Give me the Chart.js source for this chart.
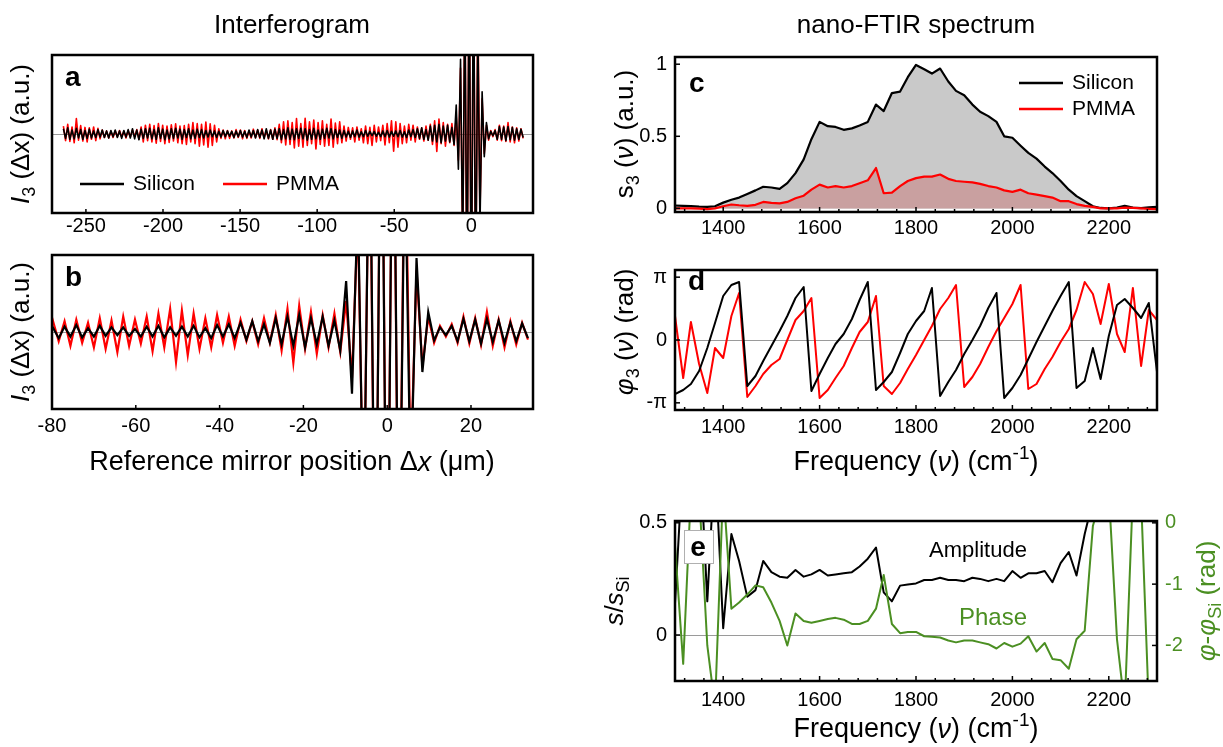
<!DOCTYPE html>
<html>
<head>
<meta charset="utf-8">
<script src="https://cdn.jsdelivr.net/npm/chart.js@4.4.1/dist/chart.umd.min.js"></script>
<style>
  html, body { margin: 0; background: #fff; }
  #fig { position: relative; width: 1223px; height: 747px; overflow: hidden; background: #fff; }
  #fig canvas { position: absolute; }
</style>
</head>
<body>
<div id="fig">
  <canvas id="pa" width="560" height="240" style="left:0;top:0"></canvas>
  <canvas id="pb" width="560" height="260" style="left:0;top:240px"></canvas>
  <canvas id="pc" width="643" height="250" style="left:580px;top:0"></canvas>
  <canvas id="pd" width="643" height="250" style="left:580px;top:250px"></canvas>
  <canvas id="pe" width="643" height="247" style="left:580px;top:500px"></canvas>
</div>
<script>
// interferogram: one sample every STEP µm starting at X_START
const X_START = -264.6;
const STEP = 1.4;
const siliconI = [
  12,-10,14,-12,9,-11,13,-9,10,-12,
  8,-10,11,-9,7,-8,10,-7,9,-8,
  7,-9,8,-6,9,-8,7,-10,8,-7,
  10,-9,12,-11,9,-13,11,-10,12,-9,
  13,-11,10,-12,14,-10,11,-13,9,-11,
  12,-10,13,-9,11,-12,10,-8,12,-11,
  9,-10,11,-8,10,-9,8,-7,9,-6,
  7,-8,6,-7,8,-6,7,-5,6,-8,
  7,-6,8,-7,6,-8,9,-7,8,-9,
  10,-8,9,-11,12,-10,9,-12,11,-10,
  12,-13,10,-11,14,-12,11,-13,12,-10,
  13,-11,12,-14,10,-12,13,-11,9,-12,
  11,-10,13,-9,12,-11,10,-8,9,-10,
  8,-7,6,-8,7,-6,9,-7,5,-6,
  8,-5,6,-4,6,-5,4,-6,7,-6,
  8,-7,6,-5,7,-6,8,-7,5,-8,
  9,-6,10,-8,12,-10,14,-12,10,-14,
  18,-16,20,-18,22,-20,18,-16,20,-18,
  15,-24,66,-80,170,-270,330,-400,420,-450,
  430,-380,250,-210,96,-52,26,-11,6,-4,
  8,-12,17,-12,16,-15,17,-13,15,-14,
  12,-12,11,-8
];
const pmmaI = [
  18,-15,22,-17,16,-20,35,-14,19,-16,
  15,-18,14,-12,16,-15,13,-11,9,-8,
  7,-9,6,-8,7,-6,8,-7,6,-9,
  8,-7,9,-6,10,-12,16,-18,20,-15,
  22,-18,19,-21,24,-17,20,-22,18,-19,
  21,-16,23,-20,18,-22,19,-24,22,-18,
  26,-22,24,-28,22,-25,27,-30,23,-26,
  20,-18,12,-10,9,-11,8,-10,7,-9,
  10,-8,9,-11,8,-10,7,-9,11,-8,
  9,-10,12,-9,8,-11,10,-12,14,-13,
  22,-20,28,-25,30,-24,26,-32,35,-28,
  24,-30,36,-26,28,-22,32,-34,26,-24,
  30,-28,22,-26,34,-30,25,-22,28,-20,
  18,-16,15,-12,14,-18,16,-14,12,-20,
  18,-22,15,-26,20,-18,16,-15,20,-25,
  24,-20,30,-39,28,-30,24,-22,18,-20,
  22,-14,20,-18,16,-12,14,-16,18,-14,
  22,-24,30,-40,34,-22,26,-28,22,-20,
  24,-26,40,-60,150,-260,320,-420,440,-430,
  420,-400,300,-180,80,-45,20,-14,8,-6,
  10,-14,20,-15,18,-17,26,-18,16,-20,
  14,-16,12,-10
];

// spectra, frequency grid in cm^-1
const freq = [
  1300,1317,1333,1350,1367,1383,1400,1417,1433,1450,
  1467,1483,1500,1517,1533,1550,1567,1583,1600,1617,
  1633,1650,1667,1683,1700,1717,1733,1750,1767,1783,
  1800,1817,1833,1850,1867,1883,1900,1917,1933,1950,
  1967,1983,2000,2017,2033,2050,2067,2083,2100,2117,
  2133,2150,2167,2183,2200,2217,2233,2250,2267,2283,
  2300
];
const siliconAmp = [
  0.02,0.018,0.016,0.012,0.010,0.015,0.04,0.06,0.075,0.10,
  0.125,0.15,0.145,0.135,0.175,0.245,0.34,0.48,0.60,0.57,
  0.565,0.545,0.555,0.575,0.60,0.72,0.675,0.80,0.81,0.91,
  0.995,0.965,0.935,0.97,0.88,0.815,0.785,0.72,0.67,0.64,
  0.60,0.50,0.49,0.435,0.385,0.345,0.29,0.245,0.19,0.13,
  0.085,0.05,0.015,0.003,0.0,0.005,0.018,0.006,0.002,0.007,
  0.01
];
const pmmaAmp = [
  0.0,0.0,0.0,-0.002,-0.005,0.0,0.015,0.027,0.022,0.018,
  0.025,0.045,0.038,0.035,0.045,0.07,0.088,0.13,0.165,0.145,
  0.155,0.145,0.155,0.175,0.195,0.28,0.105,0.11,0.155,0.19,
  0.21,0.22,0.22,0.235,0.205,0.19,0.185,0.18,0.17,0.155,
  0.145,0.125,0.115,0.13,0.105,0.095,0.085,0.075,0.05,0.05,
  0.03,0.018,0.01,0.0,0.0,0.0,0.005,0.003,0.0,-0.003,
  -0.005
];
const siliconPhase = [
  -2.7,-2.5,-2.2,-1.55,-0.4,0.85,2.2,2.75,2.9,-2.3,
  -1.8,-1.05,-0.3,0.45,1.2,2.1,2.65,-2.55,-1.7,-0.9,
  -0.2,0.3,1.05,2.0,2.9,-2.5,-2.1,-1.6,-0.65,0.3,
  0.95,1.45,2.6,-2.8,-2.1,-1.5,-0.7,0.0,0.7,1.6,
  2.35,-2.9,-2.4,-1.75,-0.95,-0.1,0.7,1.45,2.2,2.9,
  -2.4,-2.05,-0.4,-1.95,0.2,1.75,2.05,1.6,1.1,1.85,
  -1.6
];
const pmmaPhase = [
  1.2,-1.9,0.9,-1.2,-2.65,-0.4,-0.9,1.2,2.35,-2.85,
  -2.3,-1.7,-1.25,-0.95,0.0,1.0,1.45,2.1,-2.9,-2.5,
  -1.9,-1.3,-0.4,0.4,0.9,2.2,-2.3,-2.7,-2.15,-1.45,
  -0.75,0.0,0.7,1.55,2.1,2.75,-2.35,-1.85,-1.2,-0.35,
  0.45,1.1,1.8,2.75,-2.45,-2.2,-1.45,-0.85,-0.1,0.55,
  1.5,2.9,2.3,0.8,2.8,0.3,-0.6,2.6,-1.3,1.5,
  1.0
];
const ampRatio = [
  0.14,0.8,0.9,0.9,0.15,0.8,0.03,0.45,0.33,0.17,
  0.2,0.33,0.28,0.26,0.255,0.29,0.26,0.27,0.29,0.265,
  0.27,0.275,0.28,0.305,0.34,0.39,0.19,0.15,0.22,0.225,
  0.23,0.245,0.245,0.255,0.245,0.245,0.24,0.255,0.25,0.24,
  0.25,0.24,0.285,0.255,0.275,0.275,0.285,0.235,0.32,0.37,
  0.265,0.45,0.6,0.9,2.5,1.2,0.8,2.0,3.0,1.5,
  1.0
];
const phaseDiff = [
  -0.37,-2.3,0.5,0.5,-2.0,-3.0,0.6,-1.4,-1.3,-1.17,
  -1.02,-1.05,-1.3,-1.6,-2.0,-1.48,-1.6,-1.63,-1.6,-1.57,
  -1.55,-1.58,-1.65,-1.65,-1.6,-1.4,-0.85,-1.65,-1.8,-1.78,
  -1.78,-1.85,-1.86,-1.87,-1.92,-1.95,-1.92,-1.92,-1.95,-1.98,
  -2.05,-1.96,-2.02,-1.97,-1.85,-2.1,-1.96,-2.22,-2.24,-2.38,
  -1.9,-1.76,-0.05,0.4,0.5,-1.9,-3.0,0.5,0.4,-3.0,
  -3.0
];

// tick values and labels
const ticksA = [-250, -200, -150, -100, -50, 0];
const ticksB = [-80, -60, -40, -20, 0, 20];
const freqTicks = [1400, 1600, 1800, 2000, 2200];
const ampTicks = [0, 0.5, 1];
const ampTickLabels = ['0', '0.5', '1'];
const phaseTicks = [-Math.PI, 0, Math.PI];
const phaseTickLabels = ['-π', '0', 'π'];
const ratioTicks = [0, 0.5];
const ratioTickLabels = ['0', '0.5'];
const diffTicks = [-2, -1, 0];
const diffTickLabels = ['-2', '-1', '0'];

const FONT = '"Liberation Sans", Arial, Helvetica, sans-serif';
const RED = '#ff0000';
const GREEN = '#4b8f22';

function runFont(st, size) {
  const f = st ? st.split(' ') : [];
  const px = (f.includes('sub') || f.includes('sup')) ? Math.round(size * 0.7) : size;
  return (f.includes('i') ? 'italic ' : '') + (f.includes('b') ? 'bold ' : '') + px + 'px ' + FONT;
}

// text made of runs: [text, 'i' | 'b' | 'sub' | 'sup' ...]
function drawRich(ctx, t) {
  const runs = typeof t.text === 'string' ? [[t.text, t.style || '']] : t.text;
  const size = t.size || 20;
  ctx.save();
  ctx.translate(t.x, t.y);
  if (t.rotate) ctx.rotate(-Math.PI / 2);
  let w = 0;
  runs.forEach(([s, st]) => { ctx.font = runFont(st, size); w += ctx.measureText(s).width; });
  if (t.box) {
    ctx.fillStyle = '#fff';
    ctx.strokeStyle = '#b0b0b0';
    ctx.lineWidth = 1;
    ctx.fillRect(t.box[0], t.box[1], t.box[2], t.box[3]);
    ctx.strokeRect(t.box[0] + 0.5, t.box[1] + 0.5, t.box[2], t.box[3]);
  }
  let x = t.align === 'left' ? 0 : t.align === 'right' ? -w : -w / 2;
  ctx.fillStyle = t.color || '#000';
  ctx.textAlign = 'left';
  ctx.textBaseline = 'middle';
  runs.forEach(([s, st]) => {
    const f = st ? st.split(' ') : [];
    ctx.font = runFont(st, size);
    const dy = f.includes('sub') ? size * 0.3 : f.includes('sup') ? -size * 0.33 : 0;
    ctx.fillText(s, x, dy);
    x += ctx.measureText(s).width;
  });
  ctx.restore();
}

// zero line, frame with inward ticks, legend and free text
const decor = {
  id: 'decor',
  beforeDatasetsDraw(chart, args, o) {
    if (!o.zero) return;
    const { ctx, chartArea: ca } = chart;
    const y = Math.round(chart.scales[o.zero].getPixelForValue(0)) + 0.5;
    ctx.save();
    ctx.strokeStyle = '#9a9a9a';
    ctx.lineWidth = 1;
    ctx.beginPath();
    ctx.moveTo(ca.left, y);
    ctx.lineTo(ca.right, y);
    ctx.stroke();
    ctx.restore();
  },
  afterDatasetsDraw(chart, args, o) {
    const { ctx, chartArea: ca } = chart;
    ctx.save();
    ctx.strokeStyle = '#000';
    ctx.lineWidth = 1.5;
    (o.marks || []).forEach(m => {
      const s = chart.scales[m.axis];
      m.at.forEach(v => {
        const p = s.getPixelForValue(v);
        ctx.beginPath();
        if (m.side === 'bottom') { ctx.moveTo(p, ca.bottom); ctx.lineTo(p, ca.bottom - m.len); }
        else if (m.side === 'left') { ctx.moveTo(ca.left, p); ctx.lineTo(ca.left + m.len, p); }
        else { ctx.moveTo(ca.right, p); ctx.lineTo(ca.right - m.len, p); }
        ctx.stroke();
      });
    });
    ctx.lineWidth = 2.5;
    ctx.strokeRect(ca.left, ca.top, ca.right - ca.left, ca.bottom - ca.top);
    if (o.legend) {
      chart.data.datasets.forEach((d, i) => {
        const [x, y] = o.legend[i];
        ctx.strokeStyle = d.borderColor;
        ctx.lineWidth = 2.5;
        ctx.beginPath();
        ctx.moveTo(x, y);
        ctx.lineTo(x + 44, y);
        ctx.stroke();
        drawRich(ctx, { text: d.label, x: x + 53, y: y, size: 21, align: 'left' });
      });
    }
    (o.texts || []).forEach(t => drawRich(ctx, t));
    ctx.restore();
  }
};

function minorTicks(from, to, step, skip) {
  const out = [];
  for (let v = from; v <= to; v += step) if (!skip.includes(v)) out.push(v);
  return out;
}

function xAxis(min, max, ticks, height, pad) {
  return {
    type: 'linear', min, max,
    grid: { display: false, drawTicks: false },
    border: { display: false },
    ticks: {
      color: '#000', padding: pad, maxRotation: 0, autoSkip: false,
      font: { family: FONT, size: 20 },
      callback: v => String(v)
    },
    afterBuildTicks: s => { s.ticks = ticks.map(v => ({ value: v })); },
    afterFit: s => { s.height = height; }
  };
}

function yAxis(min, max, ticks, labels, width, extra, color) {
  return Object.assign({
    type: 'linear', min, max,
    grid: { display: false, drawTicks: false },
    border: { display: false },
    ticks: {
      color: color || '#000', padding: 8,
      font: { family: FONT, size: 20 },
      callback: (v, i) => labels[i]
    },
    afterBuildTicks: s => { s.ticks = ticks.map(v => ({ value: v })); },
    afterFit: s => { s.width = width; }
  }, extra || {});
}

function line(label, xs, ys, color, width, extra) {
  return Object.assign({
    label,
    data: ys.map((y, i) => ({ x: xs[i], y })),
    borderColor: color,
    backgroundColor: color,
    borderWidth: width,
    borderJoinStyle: 'round',
    pointRadius: 0,
    tension: 0,
    fill: false,
    clip: 0
  }, extra || {});
}

function panel(id, padding, datasets, scales, decorOpts) {
  return new Chart(document.getElementById(id), {
    type: 'line',
    data: { datasets },
    options: {
      responsive: false,
      animation: false,
      events: [],
      layout: { padding },
      scales,
      plugins: {
        legend: { display: false },
        tooltip: { enabled: false },
        filler: { drawTime: 'beforeDatasetsDraw' },
        decor: decorOpts
      }
    },
    plugins: [decor]
  });
}

const mirror = siliconI.map((v, i) => +(X_START + i * STEP).toFixed(1));
const titleI = [['I', 'i'], ['3', 'sub'], [' (Δx) (a.u.)', '']];
const titleFreq = [['Frequency (', ''], ['ν', 'i'], [') (cm', ''], ['-1', 'sup'], [')', '']];
const freqMinor = minorTicks(1320, 2280, 40, freqTicks);

// a: full interferogram
panel('pa', { left: 52, top: 55, right: 27, bottom: 0 }, [
  line('Silicon', mirror, siliconI, '#000', 1.6, { order: 0 }),
  line('PMMA', mirror, pmmaI, RED, 1.6, { order: 1 })
], {
  x: xAxis(-272, 40, ticksA, 27, 1),
  y: { type: 'linear', display: false, min: -180, max: 180 }
}, {
  zero: 'y',
  marks: [{ axis: 'x', side: 'bottom', len: 4, at: ticksA }],
  legend: [[80, 184], [223, 184]],
  texts: [
    { text: 'Interferogram', x: 292, y: 26, size: 26 },
    { text: 'a', style: 'b', x: 65, y: 78, size: 28, align: 'left' },
    { text: titleI, x: 22, y: 134, size: 26, rotate: true }
  ]
});

// b: close-up around zero path difference
panel('pb', { left: 52, top: 15, right: 27, bottom: 0 }, [
  line('Silicon', mirror, siliconI, '#000', 2.2, { order: 0, borderJoinStyle: 'miter' }),
  line('PMMA', mirror, pmmaI, RED, 2.2, { order: 1, borderJoinStyle: 'miter' })
], {
  x: xAxis(-80, 34.8, ticksB, 91, 5),
  y: { type: 'linear', display: false, min: -100, max: 100 }
}, {
  zero: 'y',
  marks: [{ axis: 'x', side: 'bottom', len: 4, at: ticksB }],
  texts: [
    { text: 'b', style: 'b', x: 65, y: 38, size: 28, align: 'left' },
    { text: titleI, x: 22, y: 92, size: 26, rotate: true },
    { text: [['Reference mirror position Δ', ''], ['x', 'i'], [' (μm)', '']], x: 292, y: 223, size: 27 }
  ]
});

// c: amplitude spectra
panel('pc', { left: 0, top: 57, right: 66, bottom: 0 }, [
  line('Silicon', freq, siliconAmp, '#000', 2.2, { order: 1, fill: 'origin', backgroundColor: 'rgb(201,201,201)' }),
  line('PMMA', freq, pmmaAmp, RED, 2.2, { order: 0, fill: 'origin', backgroundColor: 'rgb(201,160,160)' })
], {
  x: xAxis(1300, 2300, freqTicks, 38, 4),
  y: yAxis(-0.025, 1.05, ampTicks, ampTickLabels, 95)
}, {
  marks: [
    { axis: 'x', side: 'bottom', len: 5, at: freqTicks },
    { axis: 'x', side: 'bottom', len: 3, at: freqMinor },
    { axis: 'y', side: 'left', len: 5, at: ampTicks }
  ],
  legend: [[439, 83], [439, 109]],
  texts: [
    { text: 'nano-FTIR spectrum', x: 336, y: 26, size: 26 },
    { text: 'c', style: 'b', x: 109, y: 84, size: 28, align: 'left' },
    { text: [['s', ''], ['3', 'sub'], [' (', ''], ['ν', 'i'], [') (a.u.)', '']], x: 46, y: 134, size: 26, rotate: true }
  ]
});

// d: phase spectra
panel('pd', { left: 0, top: 5, right: 66, bottom: 0 }, [
  line('Silicon', freq, siliconPhase, '#000', 2, { order: 0 }),
  line('PMMA', freq, pmmaPhase, RED, 2, { order: 1 })
], {
  x: xAxis(1300, 2300, freqTicks, 90, 5),
  y: yAxis(-3.5, 3.5, phaseTicks, phaseTickLabels, 95)
}, {
  zero: 'y',
  marks: [
    { axis: 'x', side: 'bottom', len: 5, at: freqTicks },
    { axis: 'x', side: 'bottom', len: 3, at: freqMinor },
    { axis: 'y', side: 'left', len: 5, at: phaseTicks }
  ],
  texts: [
    { text: 'd', style: 'b', x: 108, y: 32, size: 28, align: 'left' },
    { text: [['φ', 'i'], ['3', 'sub'], [' (', ''], ['ν', 'i'], [') (rad)', '']], x: 46, y: 82, size: 26, rotate: true },
    { text: titleFreq, x: 336, y: 213, size: 27 }
  ]
});

// e: PMMA normalised to silicon
panel('pe', { left: 0, top: 21, right: 0, bottom: 0 }, [
  line('Amplitude', freq, ampRatio, '#000', 2, { order: 1, yAxisID: 'y' }),
  line('Phase', freq, phaseDiff, GREEN, 2, { order: 0, yAxisID: 'y2' })
], {
  x: xAxis(1300, 2300, freqTicks, 66, 7),
  y: yAxis(-0.205, 0.508, ratioTicks, ratioTickLabels, 95),
  y2: yAxis(-2.58, 0.03, diffTicks, diffTickLabels, 66, { position: 'right' }, GREEN)
}, {
  zero: 'y',
  marks: [
    { axis: 'x', side: 'bottom', len: 5, at: freqTicks },
    { axis: 'x', side: 'bottom', len: 3, at: freqMinor },
    { axis: 'y', side: 'left', len: 5, at: ratioTicks },
    { axis: 'y2', side: 'right', len: 5, at: diffTicks }
  ],
  texts: [
    { text: 'e', style: 'b', x: 118, y: 48, size: 28, box: [-14, -18, 29, 33] },
    { text: 'Amplitude', x: 398, y: 51, size: 22 },
    { text: 'Phase', x: 413, y: 118, size: 24, color: GREEN },
    { text: [['s', 'i'], ['/', ''], ['s', 'i'], ['Si', 'sub']], x: 36, y: 101, size: 26, rotate: true },
    { text: [['φ', 'i'], ['-', ''], ['φ', 'i'], ['Si', 'sub'], [' (rad)', '']], x: 628, y: 101, size: 26, rotate: true, color: GREEN },
    { text: titleFreq, x: 336, y: 230, size: 27 }
  ]
});
</script>
</body>
</html>
